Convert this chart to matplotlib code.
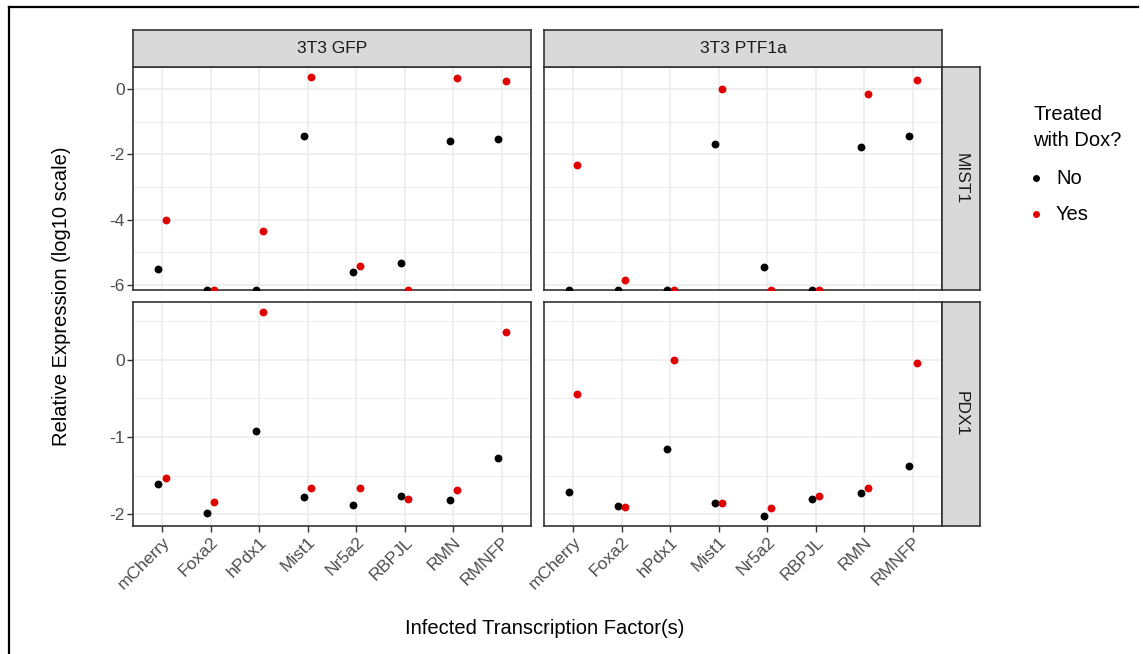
import numpy as np
import matplotlib
matplotlib.use("Agg")
from matplotlib import pyplot as plt
from matplotlib.lines import Line2D

plt.rcParams['font.family'] = ['Liberation Sans', 'DejaVu Sans']

NEG_INF = float('-inf')  # log10(0): drawn on the panel's lower edge

factors = ['mCherry', 'Foxa2', 'hPdx1', 'Mist1', 'Nr5a2', 'RBPJL', 'RMN', 'RMNFP']
cell_lines = ['3T3 GFP', '3T3 PTF1a']
genes = ['MIST1', 'PDX1']
dox_levels = ['No', 'Yes']
dox_colors = ['#000000', '#E00000']

# MIST1, 3T3 GFP
mist1_gfp_no = [-5.51, NEG_INF, NEG_INF, -1.43, -5.62, -5.34, -1.60, -1.52]
mist1_gfp_yes = [-4.01, NEG_INF, -4.36, 0.37, -5.41, NEG_INF, 0.34, 0.26]
# MIST1, 3T3 PTF1a
mist1_ptf_no = [NEG_INF, NEG_INF, NEG_INF, -1.68, -5.46, NEG_INF, -1.78, -1.45]
mist1_ptf_yes = [-2.34, -5.85, NEG_INF, 0.00, NEG_INF, NEG_INF, -0.15, 0.29]
# PDX1, 3T3 GFP
pdx1_gfp_no = [-1.61, -1.99, -0.925, -1.78, -1.88, -1.77, -1.82, -1.27]
pdx1_gfp_yes = [-1.53, -1.84, 0.615, -1.66, -1.66, -1.80, -1.69, 0.357]
# PDX1, 3T3 PTF1a
pdx1_ptf_no = [-1.71, -1.89, -1.16, -1.86, -2.02, -1.80, -1.73, -1.37]
pdx1_ptf_yes = [-0.45, -1.91, 0.00, -1.86, -1.92, -1.76, -1.66, -0.04]

data = {
    ('MIST1', '3T3 GFP'): (mist1_gfp_no, mist1_gfp_yes),
    ('MIST1', '3T3 PTF1a'): (mist1_ptf_no, mist1_ptf_yes),
    ('PDX1', '3T3 GFP'): (pdx1_gfp_no, pdx1_gfp_yes),
    ('PDX1', '3T3 PTF1a'): (pdx1_ptf_no, pdx1_ptf_yes),
}

major_breaks = {'MIST1': [-6, -4, -2, 0], 'PDX1': [-2, -1, 0]}
minor_breaks = {'MIST1': [-5, -3, -1], 'PDX1': [-1.5, -0.5, 0.5]}

W, H = 1143, 654
fig = plt.figure(figsize=(W / 100, H / 100), dpi=100)


def box(x0, y0, x1, y1):
    return [x0 / W, 1 - y1 / H, (x1 - x0) / W, (y1 - y0) / H]


col_x = [(133, 531), (544, 942)]
row_y = [(67, 290), (302, 526)]
strip_top = 30
strip_right = 980

GRID = '#EBEBEB'
BORDER = '#333333'
TEXT = '#4D4D4D'
STRIP = '#D9D9D9'

x = np.arange(1, len(factors) + 1)
dodge = 0.075

for r, gene in enumerate(genes):
    # free y scale per row, ggplot style 5% expansion over finite values
    finite = [v for c in cell_lines for s in data[(gene, c)] for v in s if np.isfinite(v)]
    lo, hi = min(finite), max(finite)
    pad = 0.05 * (hi - lo)
    ylim = (lo - pad, hi + pad)

    for c, line in enumerate(cell_lines):
        x0, x1 = col_x[c]
        y0, y1 = row_y[r]
        ax = fig.add_axes(box(x0, y0, x1, y1))
        ax.set_xlim(0.4, len(factors) + 0.6)
        ax.set_ylim(*ylim)

        for yv in minor_breaks[gene]:
            ax.axhline(yv, color=GRID, lw=0.6, zorder=0)
        for yv in major_breaks[gene]:
            ax.axhline(yv, color=GRID, lw=1.1, zorder=0)
        for xv in x:
            ax.axvline(xv, color=GRID, lw=1.1, zorder=0)

        for k, (vals, col) in enumerate(zip(data[(gene, line)], dox_colors)):
            yy = np.array([v if np.isfinite(v) else ylim[0] for v in vals])
            off = -dodge if k == 0 else dodge
            ax.scatter(x + off, yy, s=32, color=col, zorder=3, clip_on=True,
                       linewidths=0)

        for sp in ax.spines.values():
            sp.set_color(BORDER)
            sp.set_linewidth(1.2)
        ax.set_yticks(major_breaks[gene])
        ax.tick_params(colors=BORDER, length=4, width=1, labelcolor=TEXT,
                       labelsize=12.5, pad=2)
        if c == 0:
            ax.set_yticklabels([f'{v:g}' for v in major_breaks[gene]])
        else:
            ax.set_yticklabels([])
            ax.tick_params(axis='y', length=0)
        ax.set_xticks(x)
        if r == 1:
            ax.set_xticklabels(factors, rotation=45, ha='right',
                               rotation_mode='anchor')
        else:
            ax.set_xticklabels([])
            ax.tick_params(axis='x', length=0)

        # column strips
        if r == 0:
            sax = fig.add_axes(box(x0, strip_top, x1, y0))
            sax.set_facecolor(STRIP)
            sax.set_xticks([])
            sax.set_yticks([])
            for sp in sax.spines.values():
                sp.set_color(BORDER)
                sp.set_linewidth(1.2)
            sax.text(0.5, 0.5, line, ha='center', va='center', fontsize=12.5,
                     color='#1A1A1A', transform=sax.transAxes)
        # row strips
        if c == 1:
            sax = fig.add_axes(box(x1, y0, strip_right, y1))
            sax.set_facecolor(STRIP)
            sax.set_xticks([])
            sax.set_yticks([])
            for sp in sax.spines.values():
                sp.set_color(BORDER)
                sp.set_linewidth(1.2)
            sax.text(0.5, 0.5, gene, ha='center', va='center', fontsize=12.5,
                     color='#1A1A1A', rotation=-90, transform=sax.transAxes)

fig.text(545 / W, 1 - 628 / H, 'Infected Transcription Factor(s)', ha='center',
         va='center', fontsize=14.5, color='black')
fig.text(62 / W, 1 - 296 / H, 'Relative Expression (log10 scale)', ha='center',
         va='center', rotation=90, fontsize=14.5, color='black')

# legend
fig.text(1033 / W, 1 - 114 / H, 'Treated', ha='left', va='center', fontsize=14.5)
fig.text(1033 / W, 1 - 141 / H, 'with Dox?', ha='left', va='center', fontsize=14.5)
for lab, col, yy in zip(dox_levels, dox_colors, [178, 214]):
    fig.add_artist(Line2D([1036 / W], [1 - yy / H], marker='o', markersize=5,
                          color=col, markeredgewidth=0, transform=fig.transFigure))
    fig.text(1056 / W, 1 - yy / H, lab, ha='left', va='center', fontsize=14.5)

# outer frame lines at top and left
fig.add_artist(Line2D([8.5 / W, 1138 / W], [1 - 6.5 / H, 1 - 6.5 / H], color='black',
                      lw=1.6, transform=fig.transFigure))
fig.add_artist(Line2D([8.5 / W, 8.5 / W], [1 - 6.5 / H, 0], color='black',
                      lw=1.6, transform=fig.transFigure))

fig.savefig('out.png', dpi=100)
